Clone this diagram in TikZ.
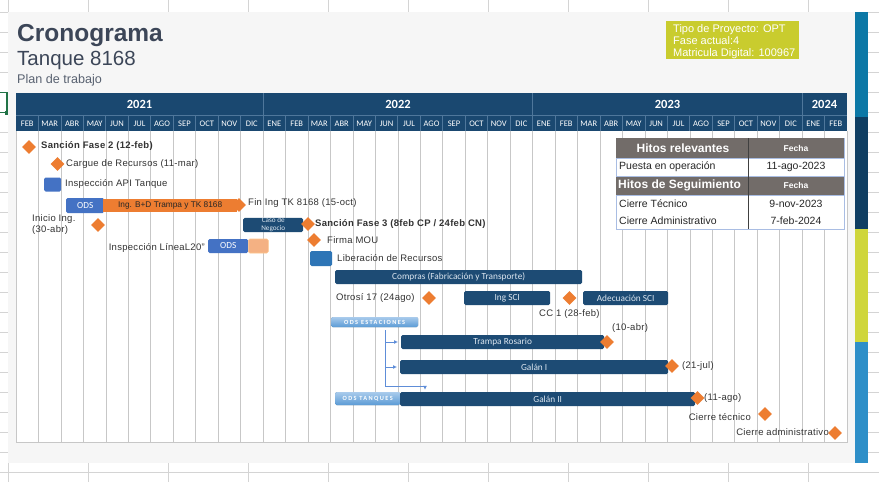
\documentclass[tikz,border=0pt]{standalone}
\usepackage{fontspec}
\setmainfont{Liberation Sans}
\newfontfamily\calfont{Carlito}
\usetikzlibrary{shapes.geometric,arrows.meta}

\definecolor{navy}{HTML}{1A4870}
\definecolor{barnavy}{HTML}{1D4B74}
\definecolor{hdrline}{HTML}{4F779B}
\definecolor{odsblue}{HTML}{4472C4}
\definecolor{libblue}{HTML}{2E75B6}
\definecolor{hitoorange}{HTML}{ED7D31}
\definecolor{orangelight}{HTML}{F4B183}
\definecolor{odsclaroA}{HTML}{A9CBEC}
\definecolor{odsclaroB}{HTML}{5B9BD5}
\definecolor{flowblue}{HTML}{5E8DD8}
\definecolor{titlegray}{HTML}{3C4658}
\definecolor{textgray}{HTML}{333333}
\definecolor{bartext}{HTML}{DCE6F0}
\definecolor{tblhead}{HTML}{726C69}
\definecolor{tblborder}{HTML}{A9BDE3}
\definecolor{infoyellow}{HTML}{C9CC2E}
\definecolor{stripeA}{HTML}{0C78A6}
\definecolor{stripeB}{HTML}{0F3E62}
\definecolor{stripeC}{HTML}{CFD63C}
\definecolor{stripeD}{HTML}{2E8FC8}
\definecolor{xlsgrid}{HTML}{D4D4D4}
\definecolor{xlsgreen}{HTML}{217346}
\definecolor{slidebg}{HTML}{F6F6F6}

\newcommand{\lblfont}{\fontsize{9.5}{11}\selectfont\addfontfeature{LetterSpace=3}}
\newcommand{\barfont}{\calfont\fontsize{9.3}{10}\selectfont}

\begin{document}
\begin{tikzpicture}[x=1pt,y=-1pt,
  bar/.style={fill=barnavy,rounded corners=1.5pt,text=bartext,font=\barfont,
    minimum height=14,inner sep=0,anchor=west},
  ods/.style={bar,fill=odsblue,text=white},
  odsclaro/.style={bar,top color=odsclaroA,bottom color=odsclaroB,minimum height=10,
    text=white,font=\calfont\bfseries\fontsize{6.3}{7}\selectfont\addfontfeature{LetterSpace=22}},
  hito/.style={diamond,fill=hitoorange,inner sep=0,minimum width=14,minimum height=14},
  lbl/.style={font=\lblfont,text=textgray,anchor=west,inner sep=0},
  mes/.style={font=\calfont\fontsize{8.5}{9}\selectfont,text=white,inner sep=0},
  anio/.style={font=\calfont\bfseries\fontsize{12.5}{13}\selectfont,text=white,inner sep=0},
  rejilla/.style={draw=black!22,line width=.6},
  conector/.style={draw=flowblue,line width=.8,-{Latex[length=4,width=4]}},
  celda/.style={font=\fontsize{10.5}{12}\selectfont,text=black!85,inner sep=0},
  cabecera/.style={font=\bfseries\fontsize{12}{13}\selectfont,text=white,inner sep=0}]
  \def\mw{22.46}
  \useasboundingbox (0,0) rectangle (879,482);
  % hoja de calculo de fondo
  \fill[white] (0,0) rectangle (879,482);
  \foreach \r in {0,...,23}
    \draw[xlsgrid,line width=.8] (0,{12+20*\r}) -- (879,{12+20*\r});
  \foreach \c in {0,...,11}
    \draw[xlsgrid,line width=.8] ({8+80*\c},0) -- ({8+80*\c},482);
  \draw[xlsgreen,line width=1.6] (-2,92.5) -- (7,92.5) -- (7,112.5) -- (-2,112.5);
  \fill[xlsgreen] (5,110.5) rectangle (9.5,115);
  % diapositiva
  \fill[slidebg] (8,12) rectangle (855,463);
  \fill[stripeA] (855,12) rectangle (868,117);
  \fill[stripeB] (855,117) rectangle (868,229);
  \fill[stripeC] (855,229) rectangle (868,342);
  \fill[stripeD] (855,342) rectangle (868,463);
  % titulo
  \node[anchor=base west,inner sep=0,text=titlegray,font=\bfseries\fontsize{24.5}{26}\selectfont] (titulo) at (17,41.5) {Cronograma};
  \node[anchor=base west,inner sep=0,text=titlegray,font=\fontsize{20.5}{22}\selectfont] (tanque) at (17,65) {Tanque 8168};
  \node[anchor=base west,inner sep=0,text=titlegray!85,font=\fontsize{12.6}{14}\selectfont] (plan) at (17,83) {Plan de trabajo};
  % recuadro del proyecto
  \fill[infoyellow] (666,21) rectangle (799,59);
  \node[anchor=base west,inner sep=0,text=white,font=\fontsize{11}{12}\selectfont] (info1) at (673,32) {Tipo de Proyecto: OPT};
  \node[anchor=base west,inner sep=0,text=white,font=\fontsize{11}{12}\selectfont] (info2) at (673,44) {Fase actual:4};
  \node[anchor=base west,inner sep=0,text=white,font=\fontsize{11}{12}\selectfont] (info3) at (673,56) {Matricula Digital: 100967};
  % encabezado de meses
  \fill[white] (16,131) rectangle (847,442);
  \fill[navy] (16,93) rectangle (847,131);
  \draw[hdrline,line width=.7] (16,115) -- (847,115);
  \foreach \i in {1,...,36}
    \draw[hdrline,line width=.7] ({16+\i*\mw},115) -- ({16+\i*\mw},131);
  \foreach \i in {11,23,35}
    \draw[hdrline,line width=.7] ({16+\i*\mw},93) -- ({16+\i*\mw},115);
  \foreach \yr/\xc in {2021/139.5,2022/398,2023/667.5,2024/824.5}
    \node[anio] (a\yr) at (\xc,104) {\yr};
  \foreach \m [count=\i from 0] in {FEB,MAR,ABR,MAY,JUN,JUL,AGO,SEP,OCT,NOV,DIC,ENE,FEB,MAR,ABR,MAY,JUN,JUL,AGO,SEP,OCT,NOV,DIC,ENE,FEB,MAR,ABR,MAY,JUN,JUL,AGO,SEP,OCT,NOV,DIC,ENE,FEB}
    \node[mes] (mes\i) at ({16+(\i+.5)*\mw},123.5) {\m};
  % rejilla del cronograma
  \foreach \i in {1,...,36}
    \draw[rejilla] ({16+\i*\mw},131) -- ({16+\i*\mw},442);
  \draw[rejilla] (16,131) -- (16,442) -- (847,442) -- (847,131);
  % 2021
  \node[hito] (fase2) at (29,147) {};
  \node[lbl,font=\lblfont\bfseries] (lfase2) at (41,145.5) {Sanción Fase 2 (12-feb)};
  \node[hito] (cargue) at (57.5,164) {};
  \node[lbl] (lcargue) at (66,164) {Cargue de Recursos (11-mar)};
  \node[ods,minimum width=17,minimum height=14] (api) at (44,184.5) {};
  \node[lbl] (lapi) at (65,184) {Inspección API Tanque};
  \node[ods,minimum width=38,minimum height=15] (ods1) at (66,205.5) {ODS};
  \node[bar,fill=hitoorange,text=black!85,font=\fontsize{8.3}{9}\selectfont,rounded corners=0,
    minimum width=134,minimum height=13] (ingbd) at (103,205.5) {Ing. B+D Trampa y TK 8168};
  \node[hito] (finig) at (239,205) {};
  \node[lbl] (lfinig) at (248,203) {Fin Ing TK 8168 (15-oct)};
  \node[lbl,align=left,font=\lblfont\fontsize{9.5}{11.5}\selectfont] (linicio) at (32,224.5) {Inicio Ing.\\(30-abr)};
  \node[hito] (inicio) at (98,225) {};
  \node[bar,minimum width=60,minimum height=14,align=center,
    font=\calfont\fontsize{7.2}{7.8}\selectfont] (caso) at (243,225) {Caso de\\Negocio};
  \node[lbl,anchor=east] (ll20) at (205,248) {Inspección LíneaL20"};
  \node[ods,minimum width=40,minimum height=14] (ods2) at (208,246) {ODS};
  \node[bar,fill=orangelight,draw=orange!45,line width=.6,minimum width=20,minimum height=14] (l20) at (248,246) {};
  % 2022
  \node[hito] (fase3) at (308,224) {};
  \node[lbl,font=\lblfont\bfseries] (lfase3) at (315,224) {Sanción Fase 3 (8feb CP / 24feb CN)};
  \node[hito] (mou) at (314,240) {};
  \node[lbl] (lmou) at (327,240) {Firma MOU};
  \node[bar,fill=libblue,minimum width=22,minimum height=15] (lib) at (310,258.5) {};
  \node[lbl] (llib) at (337,258) {Liberación de Recursos};
  \node[bar,minimum width=247] (compras) at (335,277) {Compras (Fabricación y Transporte)};
  \node[lbl] (lotrosi) at (336,298) {Otrosí 17 (24ago)};
  \node[hito] (otrosi) at (429,298) {};
  \node[bar,minimum width=86] (ingsci) at (464,298) {Ing SCI};
  \node[hito] (cc1) at (569.5,298) {};
  \node[lbl] (lcc1) at (539,314) {CC 1 (28-feb)};
  \node[bar,minimum width=85] (adecsci) at (583,298) {Adecuación SCI};
  \node[odsclaro,minimum width=87] (odsest) at (331,322) {ODS ESTACIONES};
  % 2023
  \node[lbl] (l10abr) at (612,328) {(10-abr)};
  \node[bar,minimum width=203] (rosario) at (401,342) {Trampa Rosario};
  \node[hito] (hrosario) at (607,342) {};
  \node[bar,minimum width=268] (galanI) at (400,367) {Galán I};
  \node[hito] (hgalanI) at (672,366) {};
  \node[lbl] (l21jul) at (682,366) {(21-jul)};
  \node[odsclaro,minimum width=65,minimum height=13] (odstan) at (335,398.5) {ODS TANQUES};
  \node[bar,minimum width=295] (galanII) at (400,399) {Galán II};
  \node[hito] (hgalanII) at (697.5,398) {};
  \node[lbl] (l11ago) at (704,398) {(11-ago)};
  \node[lbl,anchor=east] (lcierret) at (751,417) {Cierre técnico};
  \node[hito] (cierret) at (765,414) {};
  \node[lbl,anchor=east] (lcierrea) at (829,432) {Cierre administrativo};
  \node[hito] (cierrea) at (835,433) {};
  % flujo de las ODS
  \coordinate (tronco) at (385,330);
  \coordinate (codo) at (425,386);
  \draw[conector] (tronco) |- ([xshift=-3pt]rosario.west);
  \draw[conector] (tronco) |- ([xshift=-3pt]galanI.west);
  \draw[conector] (tronco) |- (codo) -- ([yshift=2pt]codo |- galanII.north);
  % tabla de hitos
  \draw[tblborder,fill=white,line width=.8] (616,138) rectangle (844,229);
  \fill[tblhead] (616,138) rectangle (844,158);
  \fill[tblhead] (616,176) rectangle (844,195);
  \draw[tblborder,line width=.8] (616,158) -- (844,158) (616,176) -- (844,176) (616,195) -- (844,195);
  \draw[black!75,line width=.8] (748,138) -- (748,229);
  \node[cabecera] (hrel) at (683,148) {Hitos relevantes};
  \node[cabecera,font=\bfseries\fontsize{8.5}{10}\selectfont] (fecha1) at (796,148) {Fecha};
  \node[celda,anchor=west] (puesta) at (619,166.5) {Puesta en operación};
  \node[celda] (fpuesta) at (796,166.5) {11-ago-2023};
  \node[cabecera,anchor=west] (hseg) at (618,185.5) {Hitos de Seguimiento};
  \node[cabecera,font=\bfseries\fontsize{8.5}{10}\selectfont] (fecha2) at (796,185.5) {Fecha};
  \node[celda,anchor=west] (ctec) at (619,203.5) {Cierre Técnico};
  \node[celda] (fctec) at (796,203.5) {9-nov-2023};
  \node[celda,anchor=west] (cadm) at (619,220.5) {Cierre Administrativo};
  \node[celda] (fcadm) at (796,220.5) {7-feb-2024};
\end{tikzpicture}
\end{document}
